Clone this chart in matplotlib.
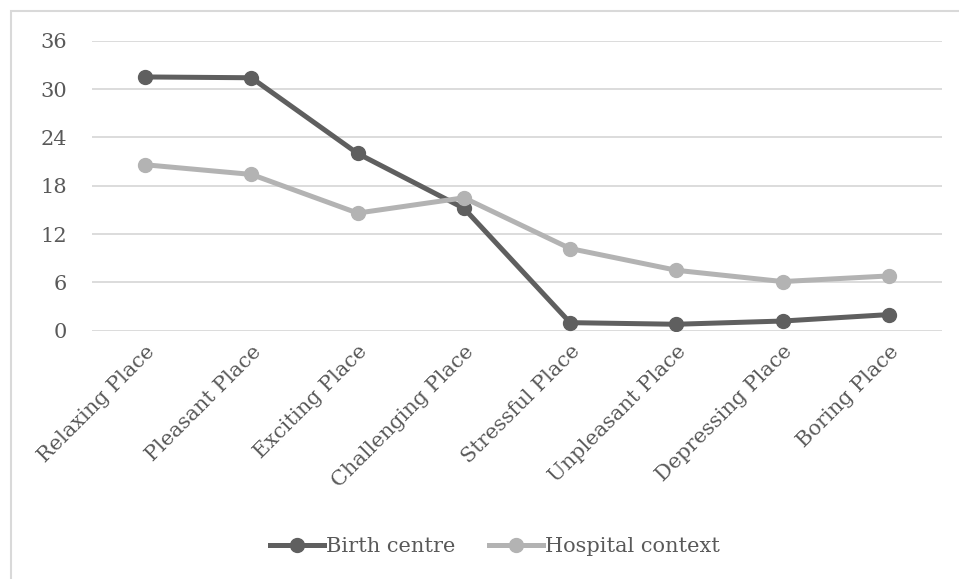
import matplotlib
matplotlib.use("Agg")
import matplotlib.pyplot as plt
from matplotlib.patches import Rectangle

categories = ["Relaxing Place", "Pleasant Place", "Exciting Place", "Challenging Place",
              "Stressful Place", "Unpleasant Place", "Depressing Place", "Boring Place"]
birth_centre = [31.5, 31.4, 22.0, 15.2, 1.0, 0.8, 1.2, 2.0]
hospital_context = [20.6, 19.4, 14.6, 16.5, 10.2, 7.5, 6.1, 6.8]
y_ticks = [0, 6, 12, 18, 24, 30, 36]

text_color = "#595959"
plt.rcParams["font.family"] = ["DejaVu Serif"]

fig = plt.figure(figsize=(9.59, 5.79), dpi=100)
# outer chart frame (only left and top edges fall inside the canvas)
fig.patches.append(Rectangle((11 / 959, -0.1), 1.2, 1 - 11 / 579 + 0.1,
                             transform=fig.transFigure, fill=False,
                             edgecolor="#d9d9d9", linewidth=1.5))

ax = fig.add_axes([92 / 959, 1 - 330.7 / 579, 850 / 959, 290 / 579])
x = range(len(categories))
ax.plot(x, birth_centre, color="#5f5f5f", linewidth=3.6, marker="o",
        markersize=10, label="Birth centre", zorder=3)
ax.plot(x, hospital_context, color="#b3b3b3", linewidth=3.6, marker="o",
        markersize=10, label="Hospital context", zorder=3)

ax.set_xlim(-0.5, len(categories) - 0.5)
ax.set_ylim(0, 36)
ax.set_yticks(y_ticks)
ax.set_xticks(list(x))
ax.set_xticklabels(categories, rotation=45, ha="right", rotation_mode="anchor")
ax.tick_params(axis="both", length=0, labelsize=15, colors=text_color)
ax.tick_params(axis="y", pad=18)
ax.tick_params(axis="x", pad=8)
ax.grid(axis="y", color="#d9d9d9", linewidth=1.3)
ax.set_axisbelow(True)
for s in ax.spines.values():
    s.set_visible(False)

fig.legend(loc="center", bbox_to_anchor=(495 / 959, 1 - 547 / 579), ncol=2,
           frameon=False, fontsize=15, handlelength=2.6, handletextpad=0.1,
           columnspacing=1.6, labelcolor=text_color)

fig.savefig("out.png", dpi=100)
